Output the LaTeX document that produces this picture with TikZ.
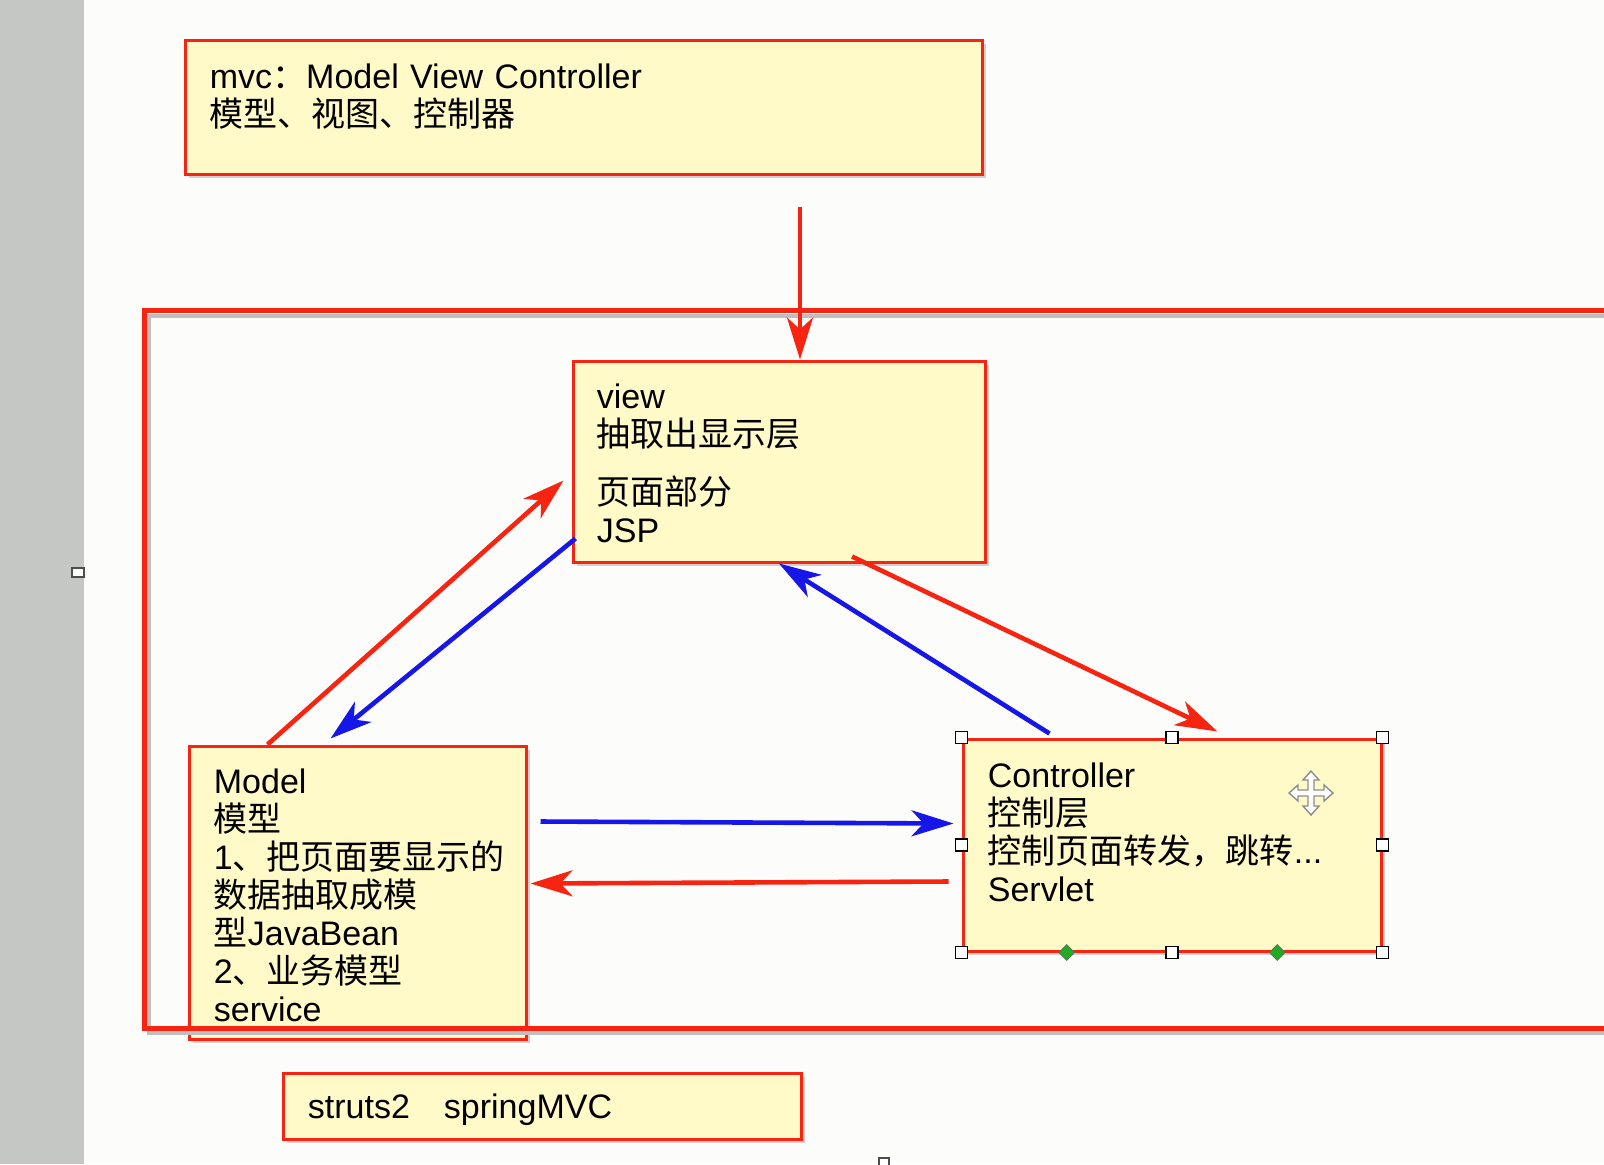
\documentclass[tikz,border=0pt]{standalone}
\usepackage{fontspec}
\setmainfont{Liberation Sans}
\newfontfamily\cjk{Noto Sans CJK SC}
\usetikzlibrary{arrows.meta,fit,shadows,shapes.geometric,calc}
\definecolor{linered}{HTML}{F82412}
\definecolor{lineblue}{HTML}{1616E8}
\definecolor{notefill}{HTML}{FFFAC8}
\definecolor{pagebg}{HTML}{FCFCFA}
\definecolor{sidegray}{HTML}{C5C7C4}
\definecolor{gripgreen}{HTML}{22AA22}
\newcommand\zh[1]{{\cjk #1}}
\tikzset{
  note/.style={draw=linered, line width=1.5pt, fill=notefill, inner sep=0pt,
    drop shadow={shadow xshift=2pt, shadow yshift=-2pt, opacity=0.35}},
  notetext/.style={anchor=base west, inner sep=0pt, text width=300pt, align=left,
    font=\fontsize{17}{19}\selectfont},
  redarrow/.style={draw=linered, line width=2.3pt, -{Stealth[length=21pt,width=13pt,inset=6pt]}},
  bluearrow/.style={draw=lineblue, line width=2.3pt, -{Stealth[length=21pt,width=13pt,inset=6pt]}},
  grip/.style={draw=black, fill=white, line width=0.6pt, minimum size=6pt, inner sep=0pt},
  gripdot/.style={diamond, draw=black!60, fill=gripgreen, line width=0.4pt, minimum size=8pt, inner sep=0pt}
}
\begin{document}
\begin{tikzpicture}[x=0.5pt,y=-0.5pt]
\useasboundingbox (0,0) rectangle (1604,1164);
\clip (0,0) rectangle (1604,1164);
\fill[pagebg] (0,0) rectangle (1604,1164);
\fill[sidegray] (0,0) rectangle (84,1164);
\draw[black!70, fill=white, line width=0.6pt] (72,568) rectangle (84,577);

\node[note, fit={(185,40) (982,174)}] (mvc) {};
\node[notetext] (mvctext) at ([shift={(13pt,-25pt)}]mvc.north west)
  {mvc\zh{：}Model View Controller\\\zh{模型、视图、控制器}};

\node[note, fit={(573,361) (985,562)}] (view) {};
\node[notetext] (viewtext) at ([shift={(12.5pt,-24.5pt)}]view.north west)
  {view\\\zh{抽取出显示层}\\[10pt]\zh{页面部分}\\JSP};

\node[note, fit={(189,746) (526,1039)}] (model) {};
\node[notetext] (modeltext) at ([shift={(13pt,-24.5pt)}]model.north west)
  {Model\\\zh{模型}\\1\zh{、把页面要显示的}\\\zh{数据抽取成模}\\\zh{型}JavaBean\\2\zh{、业务模型}\\service};

\node[note, fit={(963,739) (1381,951)}] (ctrl) {};
\node[notetext] (ctrltext) at ([shift={(13pt,-25pt)}]ctrl.north west)
  {Controller\\\zh{控制层}\\\zh{控制页面转发，跳转}...\\Servlet};

\node[note, fit={(283,1073) (801,1139)}] (frame) {};
\node[notetext] (frametext) at ([shift={(13pt,-23.5pt)}]frame.north west)
  {struts2\quad{}springMVC};

\draw[black!25, line width=2pt] (149,316) rectangle (1660,1033);
\draw[linered, line width=2.5pt] (144,310) rectangle (1660,1028);

\coordinate (mvcout) at ([shift={(108.25pt,-15.5pt)}]mvc.south);
\draw[redarrow] (mvcout) -- (mvcout |- view.north);
\draw[redarrow] ([xshift=40pt]model.north west) -- ([shift={(-4pt,-60.5pt)}]view.north west);
\draw[bluearrow] ([shift={(2pt,12.5pt)}]view.south west) -- ([shift={(71.5pt,3pt)}]model.north west);
\draw[redarrow] ([shift={(36.5pt,3.5pt)}]view.south) -- ([shift={(128pt,3pt)}]ctrl.north west);
\draw[bluearrow] ([shift={(44pt,2pt)}]ctrl.north west) -- (view.south);
\draw[bluearrow] ([shift={(6.5pt,-38.5pt)}]model.north east) -- ([shift={(-4pt,-43pt)}]ctrl.north west);
\draw[redarrow] ([shift={(-6.5pt,-72pt)}]ctrl.north west) -- ([shift={(1.5pt,-69.5pt)}]model.north east);

\foreach \a/\n in {north west/1,north/2,north east/3,east/4,south east/5,south/6,south west/7,west/8}
  \node[grip] (grip\n) at (ctrl.\a) {};
\node[gripdot] (dot1) at ($(ctrl.south west)!0.25!(ctrl.south east)$) {};
\node[gripdot] (dot2) at ($(ctrl.south west)!0.75!(ctrl.south east)$) {};

\begin{scope}[shift={(1311,793)}]
\draw[black!45, fill=white, line width=0.7pt] (0,-22) -- (8,-13) -- (3,-13) -- (3,-3) -- (13,-3) -- (13,-8) -- (22,0) -- (13,8) -- (13,3) -- (3,3) -- (3,13) -- (8,13) -- (0,22) -- (-8,13) -- (-3,13) -- (-3,3) -- (-13,3) -- (-13,8) -- (-22,0) -- (-13,-8) -- (-13,-3) -- (-3,-3) -- (-3,-13) -- (-8,-13) -- cycle;
\end{scope}
\draw[black!70, fill=white, line width=0.6pt] (879,1158) rectangle (889,1170);
\end{tikzpicture}
\end{document}
